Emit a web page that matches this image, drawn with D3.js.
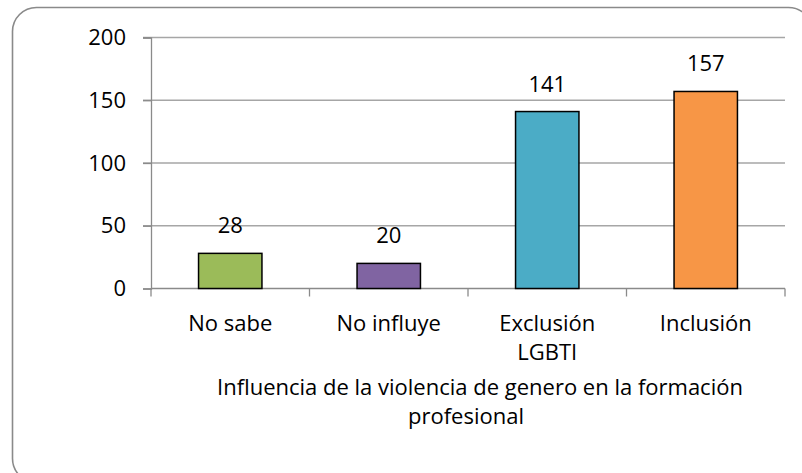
<!DOCTYPE html>
<html>
<head>
<meta charset="utf-8">
<script src="https://cdn.jsdelivr.net/npm/d3@7"></script>
<style>
  body { margin: 0; background: #fff; }
  text { font-family: "Open Sans", sans-serif; fill: #000; }
</style>
</head>
<body>
<div id="chart"></div>
<script>
// chart values
const categories = [["No sabe"], ["No influye"], ["Exclusión", "LGBTI"], ["Inclusión"]];
const values = [28, 20, 141, 157];
const barColors = ["#9BBB59", "#8064A2", "#4BACC6", "#F79646"];
const yTicks = [0, 50, 100, 150, 200];
const titleLines = ["Influencia de la violencia de genero en la formación", "profesional"];

const width = 802, height = 473;
const plot = { left: 151, right: 785, top: 37.5, bottom: 288.5 };

const svg = d3.select("#chart").append("svg")
    .attr("width", width)
    .attr("height", height);

// outer rounded frame
svg.append("rect")
    .attr("x", 12.5).attr("y", 7.5)
    .attr("width", 800).attr("height", 475)
    .attr("rx", 24).attr("ry", 24)
    .attr("fill", "#fff")
    .attr("stroke", "#8a8a8a")
    .attr("stroke-width", 1.6);

let x = d3.scaleBand()
    .domain(d3.range(values.length))
    .range([plot.left, plot.right])
    .paddingInner(0.6).paddingOuter(0.3);

let y = d3.scaleLinear()
    .domain([0, 200])
    .range([plot.bottom, plot.top]);

// gridlines
svg.append("g").selectAll("line")
    .data(yTicks.filter(d => d > 0))
    .join("line")
    .attr("x1", plot.left - 8).attr("x2", plot.right)
    .attr("y1", d => y(d)).attr("y2", d => y(d))
    .attr("stroke", "#a6a6a6").attr("stroke-width", 1.3);

// y axis
let yAxis = svg.append("g")
    .attr("transform", `translate(${plot.left},0)`)
    .call(d3.axisLeft(y).tickValues(yTicks).tickSize(8).tickPadding(17));
yAxis.select(".domain").attr("stroke", "#8a8a8a").attr("stroke-width", 1.3);
yAxis.selectAll(".tick line").attr("stroke", "#8a8a8a").attr("stroke-width", 1.3);
yAxis.selectAll(".tick text")
    .style("font-family", "'Open Sans', sans-serif")
    .attr("font-size", 22).attr("fill", "#000");

// x axis line and category ticks
svg.append("line")
    .attr("x1", plot.left).attr("x2", plot.right)
    .attr("y1", y(0)).attr("y2", y(0))
    .attr("stroke", "#8a8a8a").attr("stroke-width", 1.3);

let boundaries = d3.range(values.length + 1).map(i => plot.left + i * (plot.right - plot.left) / values.length);
svg.append("g").selectAll("line")
    .data(boundaries)
    .join("line")
    .attr("x1", d => d).attr("x2", d => d)
    .attr("y1", y(0)).attr("y2", y(0) + 8)
    .attr("stroke", "#8a8a8a").attr("stroke-width", 1.3);

// bars
svg.append("g").selectAll("rect")
    .data(values)
    .join("rect")
    .attr("x", (d, i) => x(i))
    .attr("y", d => y(d))
    .attr("width", x.bandwidth())
    .attr("height", d => y(0) - y(d))
    .attr("fill", (d, i) => barColors[i])
    .attr("stroke", "#000")
    .attr("stroke-width", 1.5);

// value labels
svg.append("g").selectAll("text")
    .data(values)
    .join("text")
    .attr("x", (d, i) => x(i) + x.bandwidth() / 2)
    .attr("y", d => y(d) - 20)
    .attr("text-anchor", "middle")
    .attr("font-size", 22)
    .text(d => d);

// category labels
let catG = svg.append("g").selectAll("text")
    .data(categories)
    .join("text")
    .attr("x", (d, i) => x(i) + x.bandwidth() / 2)
    .attr("y", 331)
    .attr("text-anchor", "middle")
    .attr("font-size", 22);
catG.selectAll("tspan")
    .data(d => d)
    .join("tspan")
    .attr("x", function () { return d3.select(this.parentNode).attr("x"); })
    .attr("dy", (d, i) => i === 0 ? 0 : 29)
    .text(d => d);

// axis title
svg.append("text")
    .attr("text-anchor", "middle")
    .attr("font-size", 22)
    .selectAll("tspan")
    .data(titleLines)
    .join("tspan")
    .attr("x", (d, i) => i === 0 ? 480 : 466)
    .attr("y", (d, i) => 395 + i * 29)
    .text(d => d);
</script>
</body>
</html>
